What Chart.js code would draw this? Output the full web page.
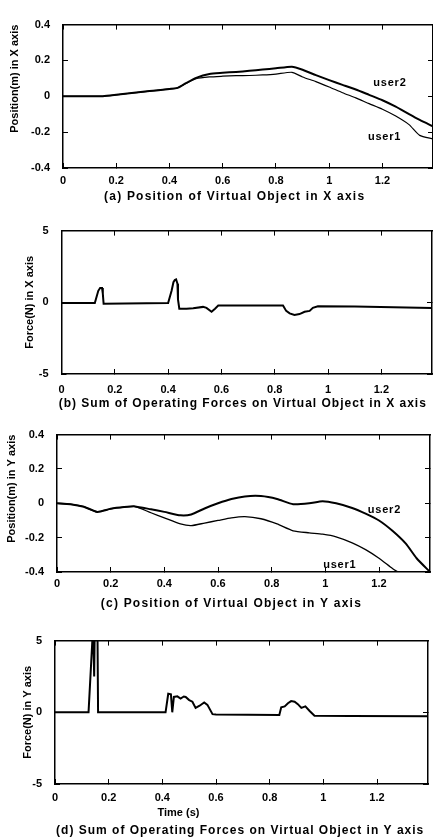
<!DOCTYPE html>
<html>
<head>
<meta charset="utf-8">
<script src="https://cdn.jsdelivr.net/npm/chart.js@4.4.1/dist/chart.umd.min.js"></script>
<style>
  body { margin: 0; background: #fff; overflow: hidden; width: 433px; height: 839px; }
  canvas { position: absolute; left: 0; }
</style>
</head>
<body>
<canvas id="chartA" width="433" height="206" style="top:0px"></canvas>
<canvas id="chartB" width="433" height="204" style="top:206px"></canvas>
<canvas id="chartC" width="433" height="206" style="top:410px"></canvas>
<canvas id="chartD" width="433" height="223" style="top:616px"></canvas>
<script>
// ---- data ----
const xTicks = [0, 0.2, 0.4, 0.6, 0.8, 1, 1.2];

// (a) position in X axis
const timeA  = [0, 0.05, 0.10, 0.15, 0.20, 0.25, 0.30, 0.35, 0.40, 0.43, 0.46, 0.50, 0.55, 0.60, 0.65, 0.70, 0.75, 0.80, 0.86, 0.90, 0.95, 1.00, 1.05, 1.10, 1.15, 1.20, 1.25, 1.30, 1.34, 1.39];
const user2A = [0, 0, 0, 0, 0.008, 0.017, 0.025, 0.033, 0.041, 0.047, 0.072, 0.103, 0.125, 0.131, 0.136, 0.142, 0.149, 0.156, 0.165, 0.148, 0.118, 0.090, 0.064, 0.038, 0.008, -0.022, -0.058, -0.100, -0.132, -0.168];
const user1A = [0, 0, 0, 0, 0.008, 0.017, 0.025, 0.033, 0.041, 0.047, 0.070, 0.098, 0.108, 0.112, 0.115, 0.116, 0.119, 0.124, 0.134, 0.108, 0.082, 0.052, 0.020, -0.009, -0.041, -0.072, -0.110, -0.158, -0.218, -0.238];

// (b) sum of forces in X axis
const timeB  = [0, 0.125, 0.138, 0.145, 0.152, 0.155, 0.158, 0.40, 0.413, 0.42, 0.425, 0.43, 0.435, 0.437, 0.442, 0.469, 0.494, 0.531, 0.544, 0.563, 0.576, 0.588, 0.71, 0.831, 0.843, 0.856, 0.874, 0.893, 0.912, 0.931, 0.943, 0.962, 1.10, 1.39];
const forceB = [-0.05, -0.05, 0.8, 1.0, 1.0, 0.6, -0.1, -0.05, 0.8, 1.4, 1.55, 1.6, 1.3, 0.2, -0.45, -0.45, -0.42, -0.32, -0.39, -0.66, -0.45, -0.23, -0.23, -0.23, -0.6, -0.77, -0.88, -0.82, -0.66, -0.6, -0.39, -0.28, -0.3, -0.39];

// (c) position in Y axis
const timeC2 = [0, 0.05, 0.10, 0.15, 0.20, 0.25, 0.29, 0.35, 0.40, 0.46, 0.50, 0.55, 0.60, 0.65, 0.70, 0.76, 0.82, 0.88, 0.94, 0.99, 1.04, 1.10, 1.15, 1.20, 1.25, 1.30, 1.34, 1.39];
const user2C = [0, -0.005, -0.02, -0.05, -0.032, -0.022, -0.018, -0.035, -0.05, -0.07, -0.065, -0.03, 0.0, 0.025, 0.04, 0.042, 0.025, -0.005, 0.0, 0.012, 0.0, -0.027, -0.06, -0.1, -0.16, -0.235, -0.32, -0.4];
const timeC1 = [0, 0.05, 0.10, 0.15, 0.20, 0.25, 0.29, 0.35, 0.40, 0.46, 0.50, 0.55, 0.60, 0.65, 0.70, 0.76, 0.82, 0.88, 0.94, 0.99, 1.04, 1.10, 1.15, 1.20, 1.25, 1.27];
const user1C = [0, -0.005, -0.02, -0.05, -0.032, -0.022, -0.018, -0.055, -0.085, -0.12, -0.13, -0.115, -0.1, -0.085, -0.078, -0.09, -0.12, -0.16, -0.172, -0.18, -0.195, -0.23, -0.27, -0.32, -0.38, -0.4];

// (d) sum of forces in Y axis
const timeD  = [0, 0.125, 0.142, 0.146, 0.150, 0.154, 0.157, 0.1605, 0.412, 0.422, 0.432, 0.437, 0.443, 0.456, 0.468, 0.48, 0.487, 0.50, 0.512, 0.524, 0.539, 0.556, 0.568, 0.587, 0.60, 0.836, 0.843, 0.856, 0.868, 0.88, 0.893, 0.905, 0.918, 0.933, 0.949, 0.967, 1.10, 1.39];
const forceD = [0, 0, 6, 2.5, 9, 9, 9, 0, 0, 1.29, 1.25, 0, 1.07, 1.11, 0.96, 1.1, 1.07, 0.85, 0.74, 0.31, 0.46, 0.68, 0.52, -0.13, -0.15, -0.18, 0.35, 0.41, 0.63, 0.78, 0.74, 0.57, 0.31, 0.41, 0.09, -0.24, -0.25, -0.28];

const captions = [
  "(a) Position of Virtual Object in X axis",
  "(b) Sum of Operating Forces on Virtual Object in X axis",
  "(c) Position of Virtual Object in Y axis",
  "(d) Sum of Operating Forces on Virtual Object in Y axis"
];

Chart.defaults.font.family = '"Liberation Sans", Arial, sans-serif';
Chart.defaults.font.size = 11;
Chart.defaults.font.weight = 'bold';
Chart.defaults.color = '#000';

const pts = (xs, ys) => xs.map((x, i) => ({ x: x, y: ys[i] }));
const fmt = v => String(+Number(v).toFixed(2));
const onStep = (scale, step) => {
  scale.ticks = scale.ticks.filter(t => Math.abs(t.value / step - Math.round(t.value / step)) < 1e-6);
};

// text on the figure: series names, captions
const notes = {
  id: 'notes',
  afterDraw(chart, args, opts) {
    const { ctx, chartArea, scales } = chart;
    ctx.save();
    ctx.fillStyle = '#000';
    ctx.textAlign = 'center';
    ctx.textBaseline = 'middle';
    (opts.items || []).forEach(n => {
      ctx.font = 'bold ' + (n.size || 11) + 'px "Liberation Sans", Arial, sans-serif';
      ctx.letterSpacing = (n.spacing || 0) + 'px';
      const px = scales.x.getPixelForValue(n.x);
      const py = n.y !== undefined ? scales.y.getPixelForValue(n.y) : chartArea.bottom + n.dy;
      ctx.fillText(n.text, px, py);
    });
    ctx.restore();
  }
};

function makeChart(id, cfg) {
  const axisX = (pos) => ({
    type: 'linear', position: pos, min: 0, max: 1.39,
    ticks: { display: pos === 'bottom', stepSize: 0.2, padding: cfg.xPad, callback: fmt, maxRotation: 0, autoSkip: false },
    grid: { drawOnChartArea: false, tickLength: -5, color: '#000', lineWidth: 1 },
    border: { color: '#000', width: 1.5 },
    afterBuildTicks: s => onStep(s, 0.2),
    afterFit: s => { s.height = pos === 'bottom' ? cfg.xHeight : 0; }
  });
  const axisY = (pos) => ({
    type: 'linear', position: pos, min: cfg.yMin, max: cfg.yMax,
    ticks: { display: pos === 'left', stepSize: cfg.yStep, padding: 18, callback: fmt },
    grid: { drawOnChartArea: false, tickLength: -5, color: '#000', lineWidth: 1 },
    border: { color: '#000', width: 1.5 },
    title: pos === 'left' ? { display: true, text: cfg.yTitle, align: cfg.yAlign, padding: { top: cfg.yTitlePad, bottom: 0 }, font: { size: 11, weight: 'bold' } } : { display: false },
    afterBuildTicks: s => onStep(s, cfg.yStep),
    afterFit: s => { s.width = pos === 'left' ? cfg.yWidth : 0; }
  });
  return new Chart(document.getElementById(id), {
    type: 'line',
    data: { datasets: cfg.datasets },
    options: {
      responsive: false,
      animation: false,
      layout: { padding: { top: cfg.top, right: cfg.right, bottom: 0, left: 0 } },
      elements: { point: { radius: 0 }, line: { borderColor: '#000', tension: 0 } },
      scales: { x: axisX('bottom'), x2: axisX('top'), y: axisY('left'), y2: axisY('right') },
      plugins: { legend: { display: false }, tooltip: { enabled: false }, notes: { items: cfg.notes } }
    },
    plugins: [notes]
  });
}

makeChart('chartA', {
  top: 12, right: 0, xHeight: 38, yWidth: 63, xPad: 11,
  yMin: -0.4, yMax: 0.4, yStep: 0.2,
  yTitle: 'Position(m) in X axis', yAlign: 'end', yTitlePad: 8.4,
  datasets: [
    { label: 'user2', data: pts(timeA, user2A), borderWidth: 2, tension: 0.2 },
    { label: 'user1', data: pts(timeA, user1A), borderWidth: 1.2, tension: 0.2 }
  ],
  notes: [
    { text: 'user2', x: 1.228, y: 0.074, spacing: 0.8 },
    { text: 'user1', x: 1.208, y: -0.225, spacing: 0.8 },
    { text: captions[0], x: 0.645, dy: 29, size: 12, spacing: 1.2 }
  ]
});

makeChart('chartB', {
  top: 13, right: 1, xHeight: 36, yWidth: 61.5, xPad: 14,
  yMin: -5, yMax: 5, yStep: 5,
  yTitle: 'Force(N) in X axis', yAlign: 'center', yTitlePad: 23.4,
  datasets: [
    { label: 'force', data: pts(timeB, forceB), borderWidth: 2 }
  ],
  notes: [
    { text: captions[1], x: 0.68, dy: 29.3, size: 12, spacing: 1.0 }
  ]
});

makeChart('chartC', {
  top: 15, right: 3, xHeight: 44, yWidth: 57, xPad: 10,
  yMin: -0.4, yMax: 0.4, yStep: 0.2,
  yTitle: 'Position(m) in Y axis', yAlign: 'end', yTitlePad: 5.1,
  datasets: [
    { label: 'user2', data: pts(timeC2, user2C), borderWidth: 2, tension: 0.2 },
    { label: 'user1', data: pts(timeC1, user1C), borderWidth: 1.3, tension: 0.2 }
  ],
  notes: [
    { text: 'user2', x: 1.22, y: -0.04, spacing: 0.8 },
    { text: 'user1', x: 1.054, y: -0.36, spacing: 0.8 },
    { text: captions[2], x: 0.65, dy: 31.3, size: 12, spacing: 1.2 }
  ]
});

makeChart('chartD', {
  top: 15, right: 5, xHeight: 55, yWidth: 55, xPad: 12,
  yMin: -5, yMax: 5, yStep: 5,
  yTitle: 'Force(N) in Y axis', yAlign: 'center', yTitlePad: 21.7,
  datasets: [
    { label: 'force', data: pts(timeD, forceD), borderWidth: 2 }
  ],
  notes: [
    { text: 'Time (s)', x: 0.46, dy: 29, size: 11, spacing: 0 },
    { text: captions[3], x: 0.69, dy: 47, size: 12, spacing: 1.0 }
  ]
});
</script>
</body>
</html>
